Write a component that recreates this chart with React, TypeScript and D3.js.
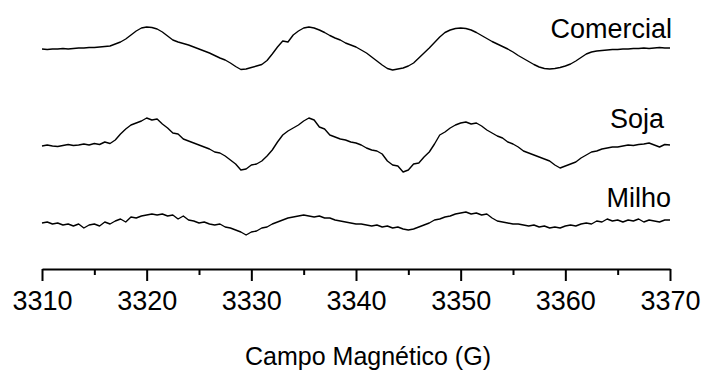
import React, { useEffect, useRef } from 'react';
import * as d3 from 'd3';

// EPR spectra, sampled every 0.5 G from 3310 to 3370 G (arbitrary intensity units)
const fieldStart = 3310;
const fieldEnd = 3370;
const fieldStep = 0.5;

const comercial = [
  -1, -1.5, -1, -1, -0.5, -1, -0.5, 0, 0, 0.5,
  0.5, 1, 1.5, 2, 4, 6, 9, 13, 17, 20,
  21, 20.5, 19, 16, 12, 8, 6, 4.5, 3, 1,
  -1, -3, -5, -7.5, -10, -12, -15, -18.5, -21.5, -21,
  -19.5, -18, -16.5, -12.5, -6, 1, 7, 6, 13, 17,
  20, 21, 20, 18, 15.5, 12.5, 10, 8, 5, 3,
  1, -2, -5, -9, -13, -17, -20.5, -22, -21, -20,
  -18, -15, -10, -5, 0, 5.5, 11, 15.5, 18, 19.5,
  20, 19.5, 18, 15.5, 12.5, 9.5, 6.5, 4, 1.5, -1,
  -4, -7.5, -10.5, -13.5, -16.5, -19, -20.5, -21, -20.5, -19.5,
  -18, -16, -13, -9.5, -6, -4, -3, -2.5, -2, -1.5,
  -1.5, -1, -1, -0.5, -0.5, 0, -0.5, 0, 0.5, 0,
  0,
];

const soja = [
  0, 1, 0, -0.5, 0.5, 1.5, 0.5, 1, 2, 1,
  2.5, 1.5, 4, 2.5, 6, 12, 17, 21, 23, 25,
  28, 26, 27, 22, 18, 13, 12, 7, 5, 3,
  1, -1, -3, -6, -7, -10, -14, -18, -24, -23,
  -19, -18, -15, -10, -4, 4, 11, 15, 18, 21,
  25, 28, 26, 19, 17, 11, 9, 7, 6, 4,
  3, 1, -2, -4, -5, -8, -15, -19, -20, -26,
  -24, -18, -17, -11, -6, 2, 11, 14, 18, 21,
  23, 24, 22, 23, 20, 16, 13, 10, 8, 4,
  2, -1, -5, -7, -9, -11, -13, -15, -19, -22,
  -20, -18, -16, -12, -9, -6, -5, -3, -2, -1,
  -1, 0, 1, 0.5, 1.5, 2, 3, 1, -1, 1.5,
  1,
];

const milho = [
  -1, 0, -2, -1, -3, -2, -4, -2, -6, -3,
  -2, -4, 0, -2, 1, 3, 0, 5, 4, 6,
  7, 8, 7, 8, 6, 7, 3, 6, 2, 1,
  -1, 0, -2, -3, -2, -5, -6, -8, -10, -13,
  -10, -9, -6, -5, -2, 0, 2, 4, 5, 6,
  7, 6, 5, 6, 4, 4, 2, 1, 0, -1,
  -2, -2, -3, -4, -3, -5, -4, -6, -5, -7,
  -8, -7, -5, -3, -1, 2, 3, 5, 6, 8,
  9, 10, 8, 9, 7, 8, 4, 1, 0, -1,
  -2, -2, -3, -4, -3, -5, -4, -6, -5, -6,
  -4, -3, -4, -2, -1, -2, 1, 0, 3, 1,
  2, 0, 2, 1, 3, 0, 2, 1, 0, 2,
  2,
];

const seriesNames = ['Comercial', 'Soja', 'Milho'];
const seriesOffsets = [220, 122, 46];
const majorTicks = [3310, 3320, 3330, 3340, 3350, 3360, 3370];
const minorTicks = [3315, 3325, 3335, 3345, 3355, 3365];
const xTitle = 'Campo Magnético (G)';

const font = 'Arial, "Liberation Sans", sans-serif';

const EprChart = () => {
  const ref = useRef<SVGSVGElement>(null);
  const width = 704;
  const height = 371;

  useEffect(() => {
    const svg = d3.select(ref.current);
    svg.selectAll('*').remove();

    const x = d3.scaleLinear().domain([fieldStart, fieldEnd]).range([42, 670]);
    const y = d3.scaleLinear().domain([0, 240]).range([268, 28]);
    const axisY = 269;

    const fields = d3.range(fieldStart, fieldEnd + fieldStep / 2, fieldStep);
    const allSeries = [comercial, soja, milho];

    const labelPos = [
      { x: 672, y: 38 },
      { x: 664, y: 128 },
      { x: 671, y: 207 },
    ];

    allSeries.forEach((values, i) => {
      const line = d3.line<number>()
        .x((_, j) => x(fields[j]))
        .y(d => y(d + seriesOffsets[i]));

      svg.append('path')
        .attr('d', line(values))
        .attr('fill', 'none')
        .attr('stroke', '#000')
        .attr('stroke-width', 1.4)
        .attr('stroke-linejoin', 'round');

      svg.append('text')
        .attr('x', labelPos[i].x)
        .attr('y', labelPos[i].y)
        .attr('text-anchor', 'end')
        .attr('font-family', font)
        .attr('font-size', 27)
        .attr('fill', '#000')
        .text(seriesNames[i]);
    });

    // major ticks with labels
    const major = svg.append('g')
      .attr('transform', `translate(0,${axisY})`)
      .call(d3.axisBottom(x)
        .tickValues(majorTicks)
        .tickFormat(d3.format('d'))
        .tickSize(12)
        .tickSizeOuter(0)
        .tickPadding(10));
    major.select('.domain').attr('stroke', '#000').attr('stroke-width', 2);
    major.selectAll('.tick line').attr('stroke', '#000').attr('stroke-width', 2);
    major.selectAll('.tick text')
      .attr('font-family', font)
      .attr('font-size', 27)
      .attr('fill', '#000');

    // minor ticks
    const minor = svg.append('g')
      .attr('transform', `translate(0,${axisY})`)
      .call(d3.axisBottom(x)
        .tickValues(minorTicks)
        .tickFormat(() => '')
        .tickSize(6)
        .tickSizeOuter(0));
    minor.select('.domain').remove();
    minor.selectAll('.tick line').attr('stroke', '#000').attr('stroke-width', 2);

    svg.append('text')
      .attr('x', 368)
      .attr('y', 365)
      .attr('text-anchor', 'middle')
      .attr('font-family', font)
      .attr('font-size', 25)
      .attr('fill', '#000')
      .text(xTitle);
  }, []);

  return (
    <svg
      ref={ref}
      width={width}
      height={height}
      style={{ position: 'absolute', left: 0, top: 0, background: '#fff' }}
    />
  );
};

export default function App() {
  return <EprChart />;
}
